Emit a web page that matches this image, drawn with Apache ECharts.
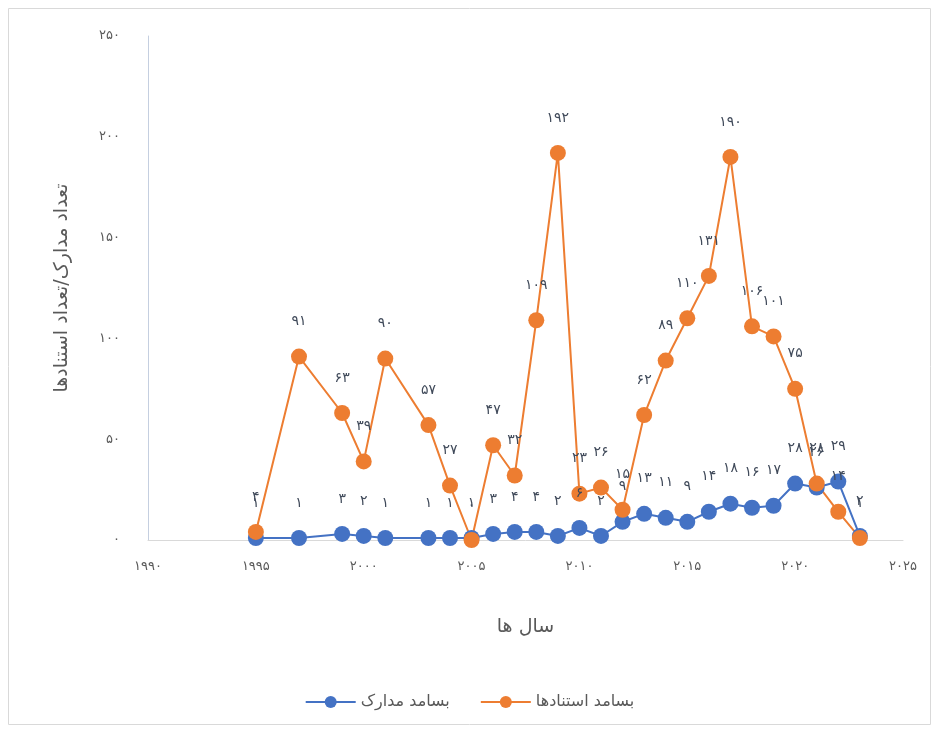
<!DOCTYPE html>
<html><head><meta charset="utf-8">
<script src="https://cdn.jsdelivr.net/npm/echarts@6/dist/echarts.min.js"></script>
<style>html,body{margin:0;padding:0;background:#fff}#c{width:939px;height:733px}</style>
</head><body><div id="c"></div>
<script>
var years = [1995,1997,1999,2000,2001,2003,2004,2005,2006,2007,2008,2009,2010,2011,2012,2013,2014,2015,2016,2017,2018,2019,2020,2021,2022,2023];
var docs = [1,1,3,2,1,1,1,1,3,4,4,2,6,2,9,13,11,9,14,18,16,17,28,26,29,2];
var cites = [4,91,63,39,90,57,27,0,47,32,109,192,23,26,15,62,89,110,131,190,106,101,75,28,14,1];
var seriesNames = ['بسامد مدارک','بسامد استنادها'];
var xName = 'سال ها';
var yName = 'تعداد مدارک/تعداد استنادها';

function fa(v){ return String(v).replace(/[0-9]/g, function(d){ return '۰۱۲۳۴۵۶۷۸۹'[+d]; }); }
function pairs(ys){ return years.map(function(y,i){ return [y, ys[i]]; }); }

var chart = echarts.init(document.getElementById('c'));
var font = 'DejaVu Sans';
function mk(name, data, color){
  return {
    name: name, type: 'line', data: pairs(data),
    symbol: 'circle', symbolSize: 16,
    lineStyle: {color: color, width: 2},
    itemStyle: {color: color},
    label: {show: true, position: 'top', distance: 20, color: '#404a5a', fontSize: 14, fontFamily: font,
      formatter: function(p){ return fa(p.value[1]); }},
    emphasis: {disabled: true}, animation: false
  };
}
chart.setOption({
  animation: false,
  graphic: [{type: 'rect', shape: {x: 8.5, y: 8.5, width: 922, height: 716}, style: {fill: 'none', stroke: '#d9d9d9', lineWidth: 1}}],
  grid: {left: 148, right: 36, top: 36, bottom: 193},
  xAxis: {type: 'value', min: 1990, max: 2025, interval: 5,
    name: xName, nameLocation: 'middle', nameGap: 78,
    nameTextStyle: {fontSize: 19, color: '#595959', fontFamily: font},
    axisLine: {show: true, lineStyle: {color: '#d9d9d9', width: 1}},
    axisTick: {show: false}, splitLine: {show: false},
    axisLabel: {color: '#595959', fontSize: 13, fontFamily: font, margin: 20, formatter: fa}},
  yAxis: {type: 'value', min: 0, max: 250, interval: 50,
    name: yName, nameLocation: 'middle', nameGap: 76, nameRotate: 90,
    nameTextStyle: {fontSize: 19, color: '#595959', fontFamily: font},
    axisLine: {show: true, lineStyle: {color: '#c5cfe0', width: 1}},
    axisTick: {show: false}, splitLine: {show: false},
    axisLabel: {color: '#595959', fontSize: 13, fontFamily: font, margin: 28, formatter: fa}},
  legend: {bottom: 18, left: 'center', itemWidth: 50, itemHeight: 15, itemGap: 30,
    textStyle: {color: '#595959', fontSize: 16, fontFamily: font},
    data: seriesNames},
  series: [mk(seriesNames[0], docs, '#4472C4'), mk(seriesNames[1], cites, '#ED7D31')]
});
</script></body></html>
